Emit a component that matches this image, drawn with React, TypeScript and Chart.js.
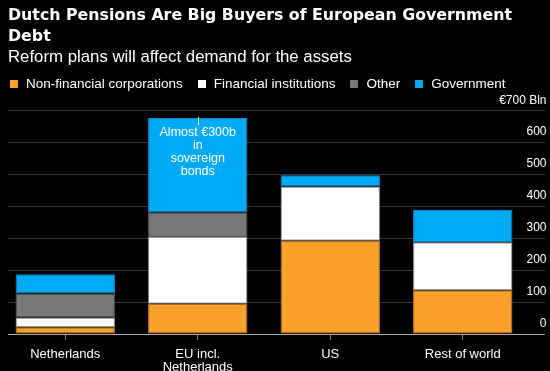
import React, { useEffect, useRef } from 'react';
import { Chart, registerables } from 'chart.js';

Chart.register(...registerables);

// ---- data ----
const categories: string[][] = [['Netherlands'], ['EU incl.', 'Netherlands'], ['US'], ['Rest of world']];
const seriesNames = ['Non-financial corporations', 'Financial institutions', 'Other', 'Government'];
const nonFinancial = [21, 95, 292, 137];
const financial = [31, 209, 170, 151];
const other = [75, 78, 0, 0];
const government = [60, 295, 36, 101];
const seriesColors = ['#f9a12b', '#ffffff', '#787878', '#00aaf5'];
const seriesEdgeColors = ['#b87a28', '#9a9a9a', '#555555', '#1585c0'];
const yMin = 0;
const yMax = 700;
const yStep = 100;
const yUnitLabel = '€700 Bln';
const titleLines = ['Dutch Pensions Are Big Buyers of European Government', 'Debt'];
const subtitle = 'Reform plans will affect demand for the assets';
const annotationCategory = 1;
const annotationLines = ['Almost €300b', 'in', 'sovereign', 'bonds'];

const seriesValues = [nonFinancial, financial, other, government];

const annotationPlugin = {
  id: 'annotationText',
  afterDatasetsDraw(chart: any) {
    const meta = chart.getDatasetMeta(seriesValues.length - 1);
    const bar = meta.data[annotationCategory];
    if (!bar) return;
    const ctx = chart.ctx;
    ctx.save();
    const x = Math.round(bar.x) + 0.5;
    ctx.strokeStyle = '#ffffff';
    ctx.lineWidth = 1;
    ctx.beginPath();
    ctx.moveTo(x, bar.y - 1);
    ctx.lineTo(x, bar.y + 7);
    ctx.stroke();
    ctx.fillStyle = '#ffffff';
    ctx.font = '12.5px "Liberation Sans"';
    ctx.textAlign = 'center';
    ctx.textBaseline = 'middle';
    annotationLines.forEach((t, i) => ctx.fillText(t, bar.x, bar.y + 14.5 + i * 13));
    ctx.restore();
  },
};

const edgePlugin = {
  id: 'edgeMask',
  beforeDatasetsDraw(chart: any) {
    const { ctx, chartArea } = chart;
    ctx.save();
    ctx.fillStyle = '#000000';
    ctx.fillRect(0, chartArea.top - 2, 10, chartArea.bottom - chartArea.top + 4);
    ctx.restore();
  },
};

function BarChart() {
  const ref = useRef<HTMLCanvasElement | null>(null);
  useEffect(() => {
    if (!ref.current) return;
    const chart = new Chart(ref.current, {
      type: 'bar',
      data: {
        labels: categories as any,
        datasets: seriesValues.map((vals, i) => ({
          label: seriesNames[i],
          data: vals,
          backgroundColor: seriesColors[i],
          borderColor: seriesEdgeColors[i],
          borderWidth: 1,
          borderSkipped: false,
          barPercentage: 0.75,
          categoryPercentage: 1,
        })),
      },
      options: {
        animation: false,
        responsive: false,
        maintainAspectRatio: false,
        layout: { padding: { left: 1, right: 4, top: 110.7, bottom: 0 } },
        plugins: {
          legend: { display: false },
          tooltip: { enabled: false },
          title: { display: false },
        },
        scales: {
          x: {
            stacked: true,
            offset: true,
            border: { display: false },
            grid: {
              display: true,
              drawOnChartArea: false,
              drawTicks: true,
              tickLength: 6,
              offset: false,
              color: '#8c8c8c',
            },
            ticks: {
              color: '#ffffff',
              font: { family: 'Liberation Sans', size: 13, lineHeight: 1 },
              padding: 8,
              maxRotation: 0,
              autoSkip: false,
            },
            afterFit: (s: any) => {
              s.height = 37;
            },
          },
          y: {
            stacked: true,
            position: 'right',
            min: yMin,
            max: yMax,
            border: { display: false },
            grid: {
              color: (c: any) => (c.tick && c.tick.value === 0 ? '#a8a8a8' : '#363636'),
              tickLength: 16,
              drawTicks: true,
              lineWidth: 1,
            },
            ticks: {
              stepSize: yStep,
              mirror: true,
              crossAlign: 'near',
              padding: 17.5,
              labelOffset: -10.5,
              color: '#ffffff',
              font: { family: 'Liberation Sans', size: 12 },
              callback: (v: any) => (v === yMax ? yUnitLabel : String(v)),
            },
            afterFit: (s: any) => {
              s.width = 17;
            },
          },
        },
      } as any,
      plugins: [edgePlugin, annotationPlugin],
    });
    return () => chart.destroy();
  }, []);
  return <canvas ref={ref} width={552} height={371} style={{ display: 'block', width: 552, height: 371 }} />;
}

export default function App() {
  return (
    <div style={{ position: 'fixed', left: 0, top: 0, width: 550, height: 371, background: '#000', overflow: 'hidden' }}>
      <div style={{ position: 'absolute', left: -2, top: 0 }}>
        <BarChart />
      </div>
      <div
        style={{
          position: 'absolute',
          left: 8,
          top: 3.7,
          color: '#fff',
          fontFamily: '"DejaVu Sans"',
          fontWeight: 'bold',
          fontSize: 15.8,
          lineHeight: '21.7px',
          whiteSpace: 'nowrap',
        }}
      >
        {titleLines.map((t, i) => (
          <div key={i}>{t}</div>
        ))}
      </div>
      <div
        style={{
          position: 'absolute',
          left: 8,
          top: 46.5,
          color: '#fff',
          fontFamily: '"Liberation Sans"',
          fontSize: 16.8,
          lineHeight: '20px',
          whiteSpace: 'nowrap',
        }}
      >
        {subtitle}
      </div>
      <div
        style={{
          position: 'absolute',
          left: 10,
          top: 75.6,
          display: 'flex',
          alignItems: 'center',
          color: '#fff',
          fontFamily: '"Liberation Sans"',
          fontSize: 13.5,
          lineHeight: '16px',
          whiteSpace: 'nowrap',
        }}
      >
        {seriesNames.map((name, i) => (
          <div key={name} style={{ display: 'flex', alignItems: 'center', marginRight: 15 }}>
            <span style={{ display: 'inline-block', width: 8, height: 8, background: seriesColors[i], marginRight: 8 }} />
            <span>{name}</span>
          </div>
        ))}
      </div>
    </div>
  );
}
